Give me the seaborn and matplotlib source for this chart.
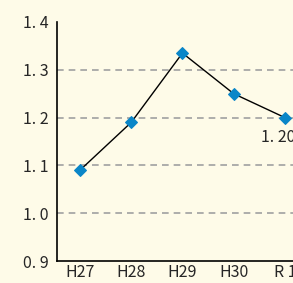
import matplotlib.pyplot as plt
import matplotlib.ticker as mticker
import pandas as pd
import seaborn as sns

years = ["H27", "H28", "H29", "H30", "R 1"]
ratios = [1.09, 1.19, 1.335, 1.25, 1.20]
last_label = "1. 20"

bg = "#fefbe8"
sns.set_style("white", {"axes.facecolor": bg, "figure.facecolor": bg})
plt.rcParams["font.family"] = ["Noto Sans CJK JP", "DejaVu Sans"]

df = pd.DataFrame({"year": years, "ratio": ratios})

fig = plt.figure(figsize=(2.93, 2.83), dpi=100)
ax = fig.add_axes([57 / 293, 22 / 283, 253 / 293, 239 / 283])

sns.lineplot(data=df, x="year", y="ratio", color="black", linewidth=1.0,
             marker="D", markersize=6, markerfacecolor="#0a86c8",
             markeredgecolor="#0a86c8", ax=ax, zorder=3)

ax.set_ylim(0.9, 1.4)
ax.set_xlim(-0.449, 4.49)
ax.set_yticks([0.9, 1.0, 1.1, 1.2, 1.3, 1.4])
ax.yaxis.set_major_formatter(mticker.FuncFormatter(lambda v, p: f"{v:.1f}".replace(".", ". ")))
for y in [1.0, 1.1, 1.2, 1.3]:
    ax.axhline(y, color="#a0a0a0", linestyle=(0, (4, 3)), linewidth=1.2, zorder=1)

ax.set_xlabel("")
ax.set_ylabel("")
ax.tick_params(axis="y", length=0, labelsize=11.5, pad=6)
ax.tick_params(axis="x", length=0, labelsize=11.5, pad=2)
for s in ["top", "right"]:
    ax.spines[s].set_visible(False)
for s in ["left", "bottom"]:
    ax.spines[s].set_color("black")
    ax.spines[s].set_linewidth(1.2)

ax.annotate(last_label, (4, ratios[-1]), xytext=(-5, -14), textcoords="offset points",
            ha="center", va="center", fontsize=11.5, annotation_clip=False)

fig.savefig("out.png", dpi=100, facecolor=bg)
